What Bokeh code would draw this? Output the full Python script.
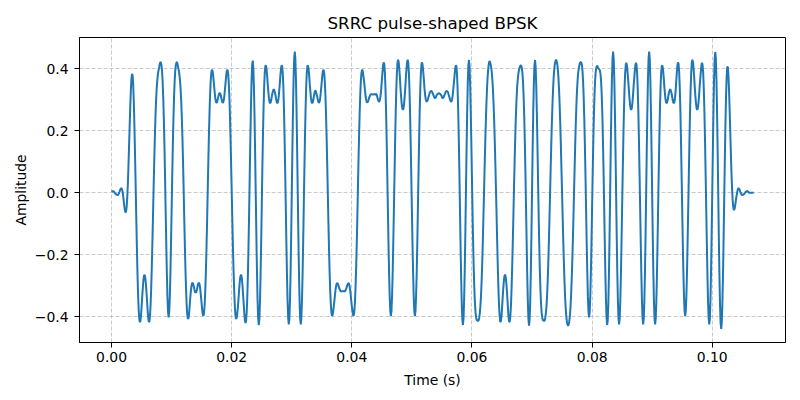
import numpy as np
from bokeh.plotting import figure
from bokeh.models import Range1d, FixedTicker, CustomJSTickFormatter
from bokeh.embed import file_html
from bokeh.resources import INLINE

# ---- data ----
# BPSK symbol sequence (one per symbol period)
symbols = [
    1, -1, -1, -1, 1, 1, -1, 1, 1, -1,
    -1, -1, -1, 1, 1, 1, 1, -1, -1, -1,
    1, -1, 1, 1, 1, 1, -1, 1, -1, 1,
    1, 1, 1, -1, -1, -1, -1, -1, 1, 1,
    1, 1, 1, -1, 1, 1, 1, -1, 1, 1,
    1, 1, 1, 1, 1, -1, 1, -1, -1, 1,
    1, -1, -1, -1, 1, 1, -1, 1, -1, -1,
    1, 1, -1, -1, 1, 1, -1, 1, 1, -1,
    1, -1, 1, 1, 1, -1, 1, -1, 1, 1,
    1, 1, -1, 1, 1, 1, -1, 1, -1, 1,
]
symbol_rate = 1000.0      # symbols per second
sps = 10                  # samples per symbol
beta = 0.5                # roll-off
span = 7                  # filter span in symbols
x_ticks = [0.0, 0.02, 0.04, 0.06, 0.08, 0.10]
y_ticks = [-0.4, -0.2, 0.0, 0.2, 0.4]

# ---- SRRC pulse shaping ----
fs = symbol_rate * sps
ntaps = span * sps + 1
tt = (np.arange(ntaps) - (ntaps - 1) / 2) / sps
h = np.zeros(ntaps)
for i, t in enumerate(tt):
    if np.isclose(t, 0.0):
        h[i] = 1 - beta + 4 * beta / np.pi
    elif np.isclose(abs(t), 1 / (4 * beta)):
        h[i] = beta / np.sqrt(2) * ((1 + 2 / np.pi) * np.sin(np.pi / (4 * beta))
                                    + (1 - 2 / np.pi) * np.cos(np.pi / (4 * beta)))
    else:
        h[i] = (np.sin(np.pi * t * (1 - beta)) + 4 * beta * t * np.cos(np.pi * t * (1 + beta))) / \
               (np.pi * t * (1 - (4 * beta * t) ** 2))
h = h / np.sqrt(np.sum(h ** 2))
up = np.zeros(len(symbols) * sps)
up[::sps] = symbols
sig = np.convolve(up, h)
time = np.arange(len(sig)) / fs

# ---- figure ----
FONT = "DejaVu Sans"
p = figure(width=800, height=400, output_backend="svg", toolbar_location=None,
           x_range=Range1d(-0.00534, 0.1122), y_range=Range1d(-0.483, 0.501),
           title="SRRC pulse-shaped BPSK")
p.min_border_left = 79
p.min_border_right = 15
p.min_border_top = 37
p.min_border_bottom = 58
p.background_fill_color = "white"
p.border_fill_color = "white"
p.outline_line_color = "black"
p.outline_line_width = 1

p.title.align = "center"
p.title.text_font = FONT
p.title.text_font_size = "16.7px"
p.title.text_font_style = "normal"
p.title.text_color = "black"

p.line(time, sig, line_color="#1f77b4", line_width=2)

p.xaxis.ticker = FixedTicker(ticks=x_ticks)
p.yaxis.ticker = FixedTicker(ticks=y_ticks)
p.xaxis.formatter = CustomJSTickFormatter(code="return tick.toFixed(2).replace('-', '\u2212');")
p.yaxis.formatter = CustomJSTickFormatter(code="return tick.toFixed(1).replace('-', '\u2212');")
p.xaxis.axis_label = "Time (s)"
p.yaxis.axis_label = "Amplitude"
for ax in (p.xaxis[0], p.yaxis[0]):
    ax.axis_label_text_font = FONT
    ax.axis_label_text_font_size = "13.9px"
    ax.axis_label_text_font_style = "normal"
    ax.axis_label_text_color = "black"
    ax.major_label_text_font = FONT
    ax.major_label_text_font_size = "13.9px"
    ax.major_label_text_color = "black"
    ax.major_tick_out = 5
    ax.major_tick_in = 0
    ax.minor_tick_out = 0
    ax.minor_tick_in = 0
    ax.major_tick_line_color = "black"
    ax.axis_line_color = "black"
p.yaxis.major_label_standoff = 6
p.xaxis.major_label_standoff = 4
p.yaxis.axis_label_standoff = 3
p.xaxis.axis_label_standoff = 7

for g in (p.xgrid[0], p.ygrid[0]):
    g.grid_line_color = "#b0b0b0"
    g.grid_line_alpha = 0.85
    g.grid_line_dash = "4 2"
    g.grid_line_width = 0.8

open("out.html", "w").write(file_html(p, INLINE))
